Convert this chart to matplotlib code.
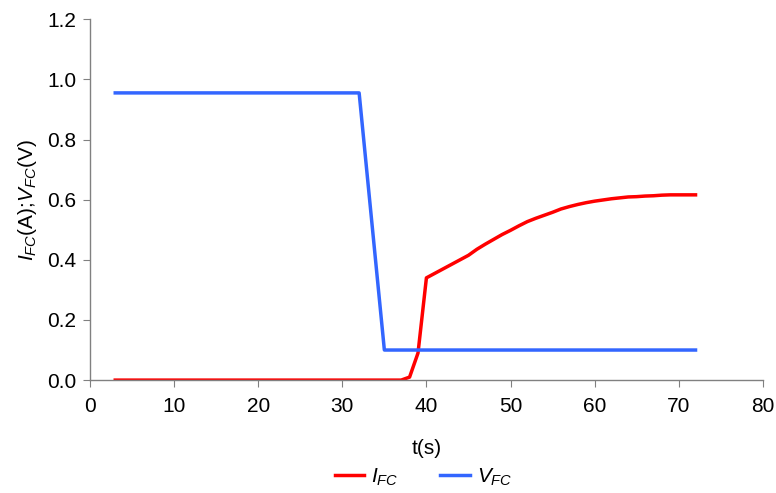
import numpy as np
import matplotlib
matplotlib.use('Agg')
from matplotlib import pyplot as plt

plt.rcParams['font.family'] = ['Liberation Sans', 'DejaVu Sans']
plt.rcParams['mathtext.fontset'] = 'custom'
plt.rcParams['mathtext.rm'] = 'Liberation Sans'
plt.rcParams['mathtext.it'] = 'Liberation Sans:italic'

# fuel cell voltage (V)
t_v = [3, 32, 35, 72]
v_fc = [0.955, 0.955, 0.10, 0.10]

# fuel cell current (A), 1 s steps from 37 s
t_i = [3] + list(range(37, 73))
i_fc = [0.0, 0.0, 0.01, 0.09, 0.34, 0.355, 0.37, 0.385, 0.40, 0.415, 0.435,
        0.452, 0.468, 0.484, 0.498, 0.513, 0.527, 0.538, 0.548, 0.558, 0.569,
        0.577, 0.584, 0.590, 0.595, 0.599, 0.603, 0.606, 0.609, 0.610, 0.612,
        0.613, 0.615, 0.616, 0.616, 0.616, 0.616]

FS = 15

fig = plt.figure(figsize=(7.76, 4.93), dpi=100)
ax = fig.add_axes([0.116, 0.229, 0.867, 0.732])

ax.plot(t_i, i_fc, color='#ff0000', lw=2.5, label='$I_{FC}$')
ax.plot(t_v, v_fc, color='#3366ff', lw=2.5, label='$V_{FC}$')

ax.set_xlim(0, 80)
ax.set_ylim(0, 1.2)
ax.set_xticks(np.arange(0, 81, 10))
ax.set_yticks(np.arange(0, 1.21, 0.2))
ax.yaxis.set_major_formatter(matplotlib.ticker.FormatStrFormatter('%.1f'))

for s in ['top', 'right']:
    ax.spines[s].set_visible(False)
for s in ['left', 'bottom']:
    ax.spines[s].set_color('#808080')
    ax.spines[s].set_linewidth(1.0)
ax.tick_params(direction='out', length=5, color='#808080', labelsize=FS,
               labelcolor='black', pad=5)
ax.tick_params(axis='x', pad=7)

ax.set_xlabel('t(s)', fontsize=FS, labelpad=17)
ax.set_ylabel('$I_{FC}$(A);$V_{FC}$(V)', fontsize=FS, labelpad=6)

fig.legend(loc='center', bbox_to_anchor=(0.546, 0.032), ncol=2,
           frameon=False, fontsize=FS, handlelength=1.4, handletextpad=0.35,
           columnspacing=2.0)

fig.savefig('out.png', dpi=100)
